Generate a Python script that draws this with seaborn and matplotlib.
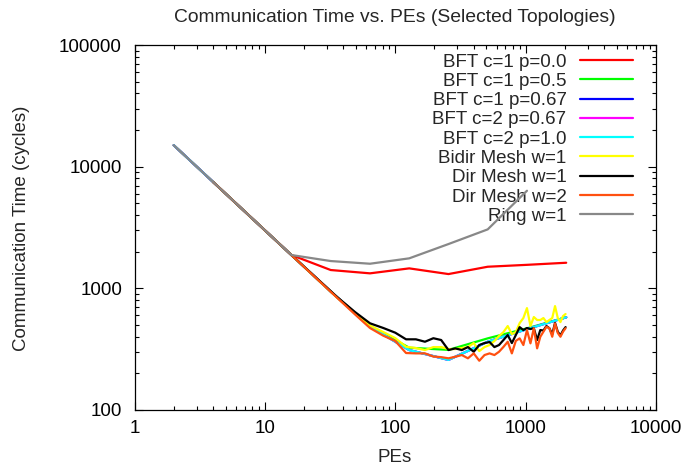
import matplotlib
matplotlib.use("Agg")
import matplotlib.pyplot as plt
import seaborn as sns
import pandas as pd
from matplotlib.ticker import FixedLocator, FuncFormatter, LogLocator, NullFormatter

# ---------------- data ----------------
bft_pes = [2, 4, 8, 16, 32, 64, 128, 256, 512, 1024, 2048]
bft_c1_p00 = [15000, 7500, 3750, 1878, 1414, 1328, 1459, 1310, 1505, 1560, 1623]
bft_c1_p05 = [15000, 7500, 3750, 1875, 940, 490, 325, 312, 388, 469, 578]
bft_c1_p067 = [15000, 7500, 3750, 1875, 940, 485, 311, 258, 364, 462, 578]
bft_c2_p067 = [15000, 7500, 3750, 1875, 940, 485, 311, 258, 364, 462, 578]
bft_c2_p10 = [15000, 7500, 3750, 1875, 940, 485, 311, 258, 364, 462, 578]

ring_pes = [2, 4, 8, 16, 32, 64, 128, 256, 512, 1024]
ring_w1 = [15000, 7500, 3750, 1878, 1676, 1593, 1764, 2312, 3052, 6340]

mesh_pes = [4, 9, 16, 25, 36, 49, 64, 81, 100, 121, 144, 169, 196, 225, 256,
            289, 324, 361, 400, 441, 484, 529, 576, 625, 676, 729, 784, 841,
            900, 961, 1024, 1089, 1156, 1225, 1296, 1369, 1444, 1521, 1600,
            1681, 1764, 1849, 1936, 2025]
bidir_mesh_w1 = [7500, 3333, 1875, 1200, 835, 625, 495, 437, 390, 331, 323,
                 311, 329, 329, 317, 317, 323, 329, 355, 305, 329, 342, 369,
                 405, 437, 490, 420, 437, 518, 570, 688, 490, 581, 549, 549,
                 570, 528, 549, 570, 715, 570, 528, 592, 615]
dir_mesh_w1 = [7500, 3333, 1875, 1210, 845, 640, 516, 472, 432, 381, 381,
               364, 389, 376, 311, 321, 311, 329, 301, 342, 355, 362, 329,
               342, 376, 413, 355, 413, 480, 454, 472, 463, 470, 376, 454,
               450, 490, 470, 420, 520, 440, 410, 450, 480]
dir_mesh_w2 = [7500, 3333, 1875, 1200, 833, 612, 472, 408, 369, 294, 292,
               292, 275, 272, 266, 274, 283, 266, 292, 254, 283, 292, 283,
               301, 330, 364, 292, 370, 388, 342, 454, 353, 470, 321, 400,
               440, 483, 470, 400, 515, 430, 400, 440, 470]

labels = ["BFT c=1 p=0.0", "BFT c=1 p=0.5", "BFT c=1 p=0.67", "BFT c=2 p=0.67",
          "BFT c=2 p=1.0", "Bidir Mesh w=1", "Dir Mesh w=1", "Dir Mesh w=2",
          "Ring w=1"]
colors = ["#ff0000", "#00ff00", "#0000ff", "#ff00ff", "#00ffff",
          "#ffff00", "#000000", "#ff5010", "#888888"]

series = [
    (bft_pes, bft_c1_p00), (bft_pes, bft_c1_p05), (bft_pes, bft_c1_p067),
    (bft_pes, bft_c2_p067), (bft_pes, bft_c2_p10), (mesh_pes, bidir_mesh_w1),
    (mesh_pes, dir_mesh_w1), (mesh_pes, dir_mesh_w2), (ring_pes, ring_w1),
]
frames = []
for lab, (xs, ys) in zip(labels, series):
    frames.append(pd.DataFrame({"PEs": xs, "Time": ys, "Topology": lab}))
df = pd.concat(frames, ignore_index=True)

# ---------------- style ----------------
sns.set_theme(style="white")
plt.rcParams["font.family"] = ["Liberation Sans", "DejaVu Sans"]
FS = 13.5

fig = plt.figure(figsize=(6.88, 4.70), dpi=100)
ax = fig.add_axes([134.5 / 688, 1 - 410 / 470, (656 - 134.5) / 688, (410 - 45) / 470])

sns.lineplot(data=df, x="PEs", y="Time", hue="Topology", hue_order=labels,
             palette=dict(zip(labels, colors)), estimator=None, sort=False,
             linewidth=1.6, legend=False, ax=ax)

ax.set_xscale("log")
ax.set_yscale("log")
ax.set_xlim(1, 10000)
ax.set_ylim(100, 100000)

ax.xaxis.set_major_locator(FixedLocator([1, 10, 100, 1000, 10000]))
ax.yaxis.set_major_locator(FixedLocator([100, 1000, 10000, 100000]))
ax.xaxis.set_minor_locator(LogLocator(base=10, subs=range(2, 10)))
ax.yaxis.set_minor_locator(LogLocator(base=10, subs=range(2, 10)))
fmt = FuncFormatter(lambda v, p: f"{int(round(v))}")
ax.xaxis.set_major_formatter(fmt)
ax.yaxis.set_major_formatter(fmt)
ax.xaxis.set_minor_formatter(NullFormatter())
ax.yaxis.set_minor_formatter(NullFormatter())

ax.tick_params(which="both", direction="in", top=True, right=True,
               bottom=True, left=True, colors="black", labelsize=FS)
ax.tick_params(which="major", length=5.5, width=0.8)
ax.tick_params(which="minor", length=3, width=0.8)
ax.tick_params(axis="x", which="major", pad=7.5)
ax.tick_params(axis="y", which="major", pad=9)
for s in ax.spines.values():
    s.set_color("black")
    s.set_linewidth(0.9)

ax.set_xlabel("")
ax.set_ylabel("")
fig.text(395 / 688, 1 - 457 / 470, "PEs", ha="center", va="center", fontsize=FS)
fig.text(22 / 688, 1 - 228 / 470, "Communication Time (cycles)", ha="center",
         va="center", rotation=90, fontsize=FS)
fig.text(395 / 688, 1 - 18 / 470, "Communication Time vs. PEs (Selected Topologies)",
         ha="center", va="center", fontsize=13.9)

handles = [plt.Line2D([], [], color=c, lw=1.6) for c in colors]
leg = ax.legend(handles, labels, loc="upper right",
                bbox_to_anchor=((633.3 - 134.5) / 521.5, (410 - 53.5) / 365),
                frameon=False, markerfirst=False, fontsize=FS,
                handlelength=2.86, handletextpad=0.7, labelspacing=0.115,
                borderaxespad=0, borderpad=0)
leg.set_zorder(1)

fig.savefig("out.png", dpi=100)
